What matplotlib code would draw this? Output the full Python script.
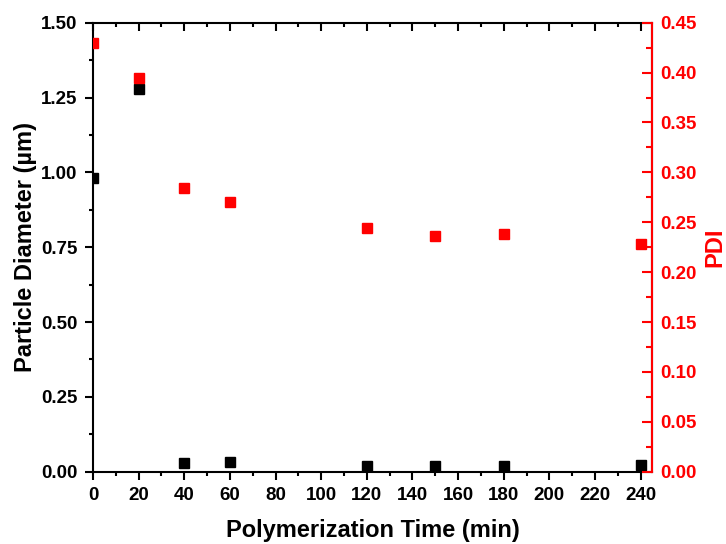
import matplotlib
matplotlib.use("Agg")
import matplotlib.pyplot as plt
from matplotlib.ticker import MultipleLocator, FormatStrFormatter

time_min = [0, 20, 40, 60, 120, 150, 180, 240]
diameter_um = [0.980, 1.278, 0.028, 0.031, 0.019, 0.018, 0.018, 0.021]
pdi = [0.430, 0.395, 0.284, 0.270, 0.244, 0.236, 0.238, 0.228]

plt.rcParams['font.family'] = ['Liberation Sans', 'DejaVu Sans']
plt.rcParams['font.weight'] = 'bold'

fig = plt.figure(figsize=(7.26, 5.44), dpi=100)
ax = fig.add_axes([93/726, 1 - 471.7/544, (652 - 93)/726, (471.7 - 22.7)/544])
ax2 = ax.twinx()

ax.plot(time_min, diameter_um, 's', color='black', markersize=7, linestyle='none', zorder=3)
ax2.plot(time_min, pdi, 's', color='#ff0000', markersize=7, linestyle='none', zorder=3)

ax.set_xlim(0, 245)
ax.set_ylim(0, 1.5)
ax2.set_ylim(0, 0.45)

ax.xaxis.set_major_locator(MultipleLocator(20))
ax.xaxis.set_minor_locator(MultipleLocator(10))
ax.yaxis.set_major_locator(MultipleLocator(0.25))
ax.yaxis.set_minor_locator(MultipleLocator(0.125))
ax.yaxis.set_major_formatter(FormatStrFormatter('%.2f'))
ax2.yaxis.set_major_locator(MultipleLocator(0.05))
ax2.yaxis.set_minor_locator(MultipleLocator(0.025))
ax2.yaxis.set_major_formatter(FormatStrFormatter('%.2f'))

for a in (ax, ax2):
    for s in a.spines.values():
        s.set_linewidth(1.5)
ax2.spines['right'].set_color('#ff0000')
ax2.spines['left'].set_visible(False)
ax2.spines['top'].set_visible(False)
ax2.spines['bottom'].set_visible(False)

ax.tick_params(axis='x', which='both', direction='out', top=True, width=1.5, labelsize=13.5, pad=5)
ax.tick_params(axis='x', which='major', length=6)
ax.tick_params(axis='x', which='minor', length=3)
ax.tick_params(axis='y', which='both', direction='out', width=1.5, labelsize=13.5, pad=5)
ax.tick_params(axis='y', which='major', length=6)
ax.tick_params(axis='y', which='minor', length=3)
# top ticks point inward
for t in ax.xaxis.get_major_ticks():
    t.tick2line.set_marker(3)
for t in ax.xaxis.get_minor_ticks():
    t.tick2line.set_marker(3)

ax2.tick_params(axis='y', which='both', direction='in', colors='#ff0000', width=1.5, labelsize=13.5, pad=6)
ax2.tick_params(axis='y', which='major', length=7)
ax2.tick_params(axis='y', which='minor', length=4)

for lab in ax.get_xticklabels() + ax.get_yticklabels() + ax2.get_yticklabels():
    lab.set_fontweight('bold')

ax.set_xlabel('Polymerization Time (min)', fontsize=17, fontweight='bold')
ax.set_ylabel('Particle Diameter (µm)', fontsize=17, fontweight='bold')
ax2.set_ylabel('PDI', fontsize=17, fontweight='bold', color='#ff0000')
ax.xaxis.set_label_coords(0.5, -0.132)
ax.yaxis.set_label_coords(-0.1216, 0.5)
ax2.yaxis.set_label_coords(1.113, 0.5)
ax.xaxis.label.set_va('center')
ax.yaxis.label.set_va('center')
ax2.yaxis.label.set_va('center')

fig.savefig('out.png', dpi=100)
